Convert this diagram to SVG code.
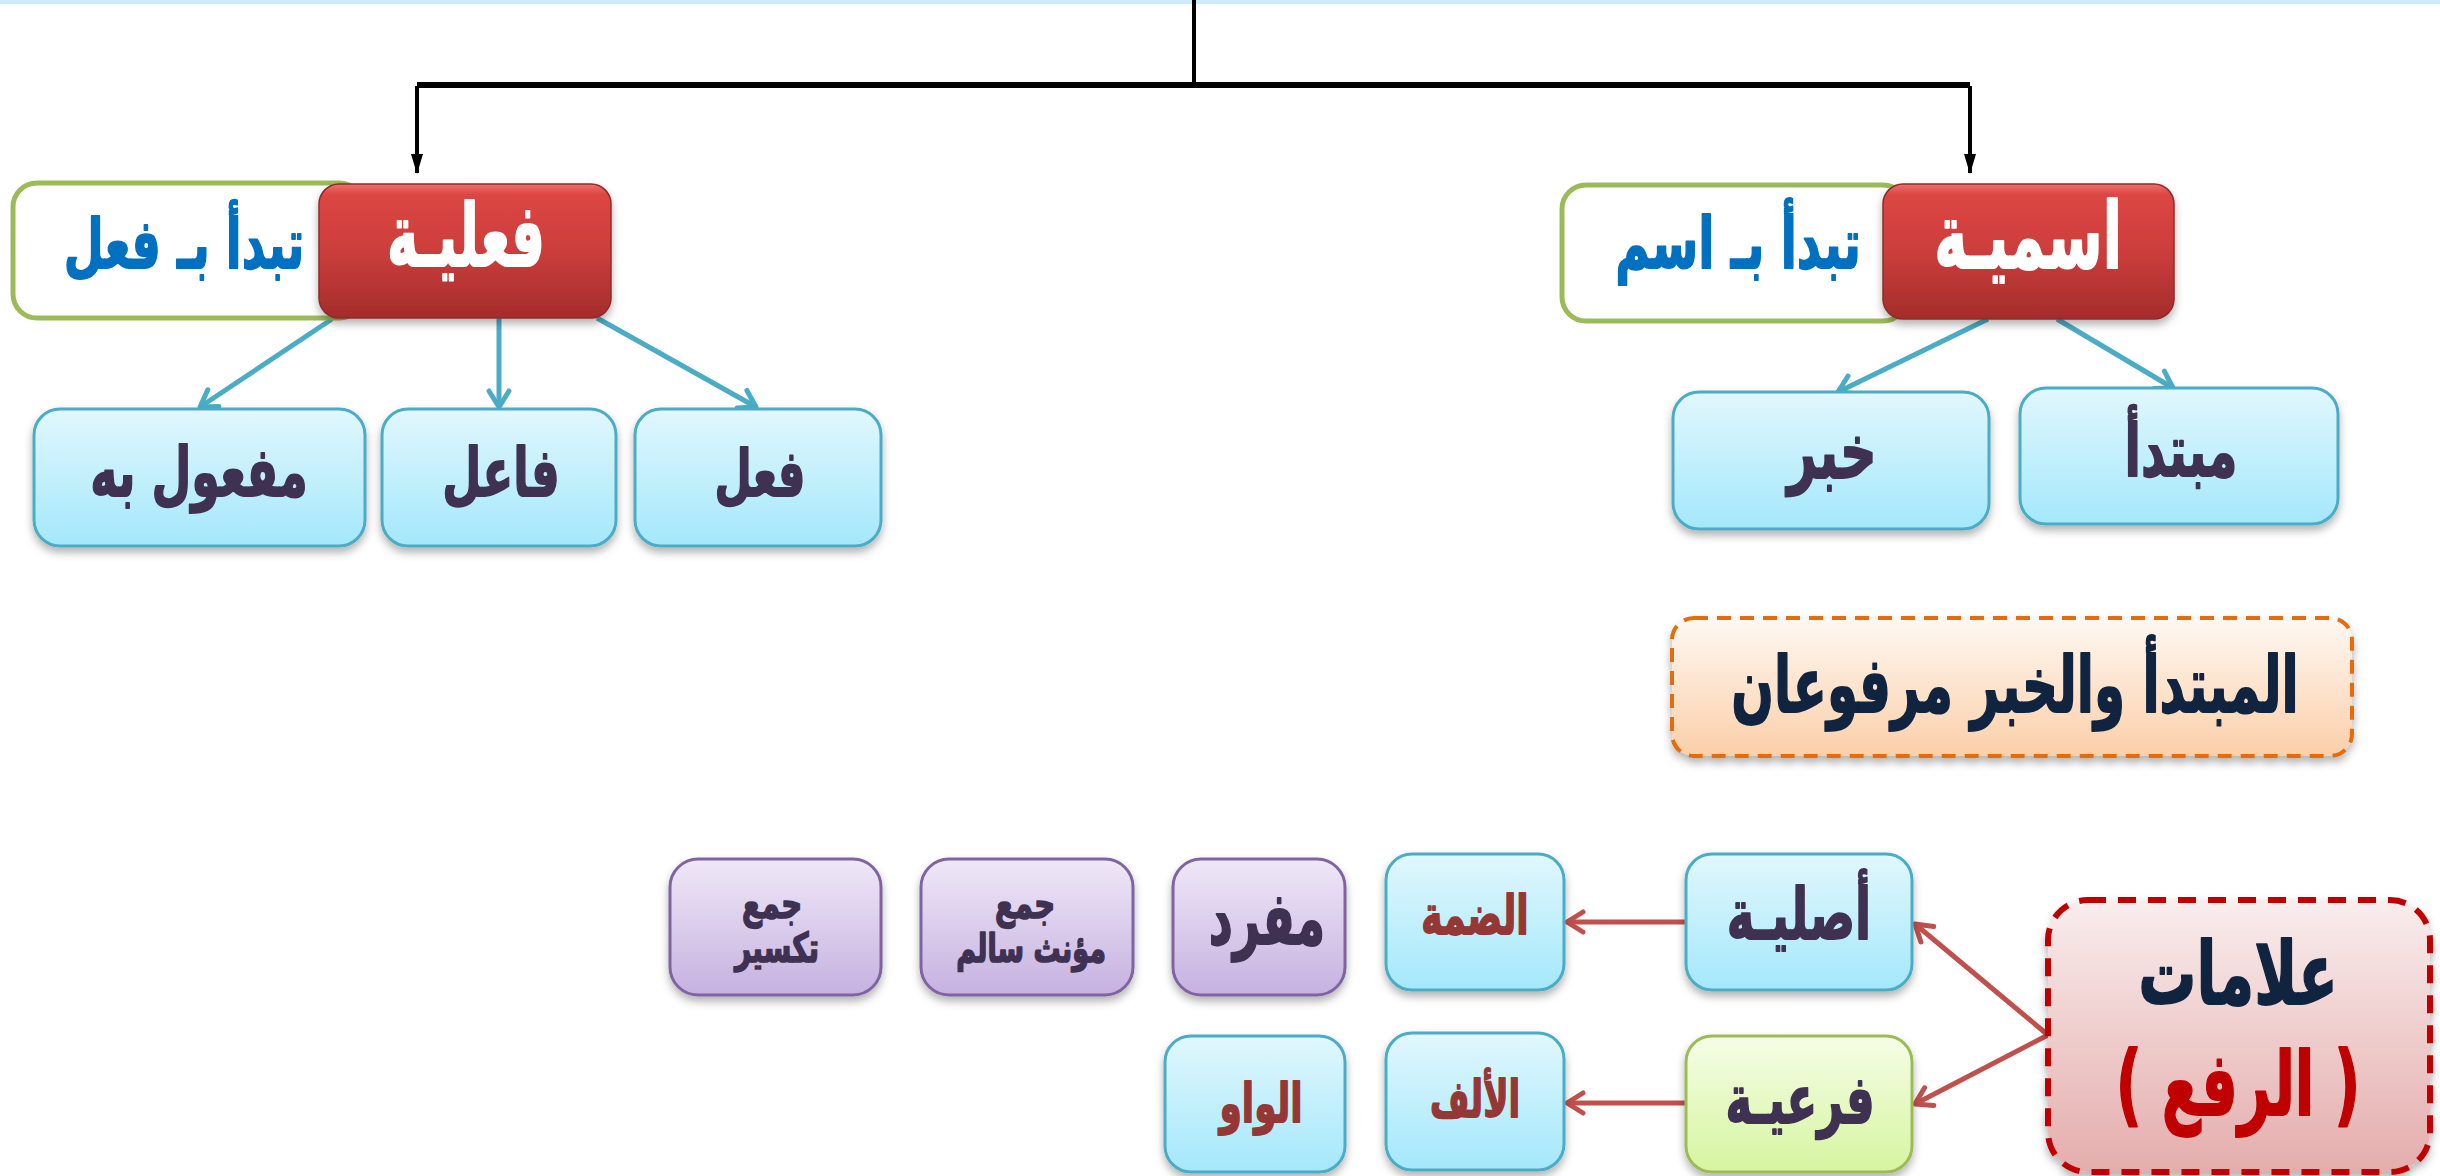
<svg xmlns="http://www.w3.org/2000/svg" width="2440" height="1176" viewBox="0 0 2440 1176">
<defs>
<style>
text{font-family:"DejaVu Sans","Liberation Sans",sans-serif;font-weight:bold;text-anchor:middle;stroke-width:1.2;stroke-linejoin:round}
.blue{fill:url(#gBlue);stroke:#4bacc6;stroke-width:3}
.purple{fill:url(#gPurple);stroke:#8064a2;stroke-width:3}
.green{fill:url(#gGreen);stroke:#9bbb59;stroke-width:3}
.redbox{fill:url(#gRed);stroke:#8e2b2b;stroke-width:1.5}
.outline{fill:#ffffff;stroke:#9bbb59;stroke-width:5}
.tDark{fill:#3f3151;stroke:#3f3151}
.tNavy{fill:#10243f;stroke:#10243f}
.tBrown{fill:#953735;stroke:#953735}
.tWhite{fill:#ffffff;stroke:#ffffff}
.tBlueTxt{fill:#0070c0;stroke:#0070c0}
.tRed{fill:#c00000;stroke:#c00000}
.black{stroke:#000;stroke-width:4;fill:none}
.teal{stroke:#4bacc6;stroke-width:5;fill:none}
.redline{stroke:#c0504d;stroke-width:5;fill:none}
</style>
<linearGradient id="gBlue" x1="0" y1="0" x2="0" y2="1"><stop offset="0" stop-color="#e1f7fd"/><stop offset="1" stop-color="#a4e8fb"/></linearGradient>
<linearGradient id="gPurple" x1="0" y1="0" x2="0" y2="1"><stop offset="0" stop-color="#efe8f7"/><stop offset="1" stop-color="#c6b1e0"/></linearGradient>
<linearGradient id="gGreen" x1="0" y1="0" x2="0" y2="1"><stop offset="0" stop-color="#f5fde6"/><stop offset="1" stop-color="#d6f5a0"/></linearGradient>
<linearGradient id="gRed" x1="0" y1="0" x2="0" y2="1"><stop offset="0" stop-color="#ef6f6c"/><stop offset="0.08" stop-color="#dc4643"/><stop offset="0.5" stop-color="#cc3e3c"/><stop offset="1" stop-color="#a42c2b"/></linearGradient>
<linearGradient id="gOrange" x1="0" y1="0" x2="0" y2="1"><stop offset="0" stop-color="#fef8f2"/><stop offset="1" stop-color="#fbcfa9"/></linearGradient>
<linearGradient id="gPink" x1="0" y1="0" x2="0" y2="1"><stop offset="0" stop-color="#f9eded"/><stop offset="1" stop-color="#e4adac"/></linearGradient>
<filter id="sh" x="-10%" y="-10%" width="120%" height="130%"><feDropShadow dx="0" dy="5" stdDeviation="4" flood-color="#000" flood-opacity="0.3"/></filter>
<marker id="mBlack" viewBox="0 0 20 14" markerWidth="20" markerHeight="14" refX="19" refY="7" orient="auto" markerUnits="userSpaceOnUse"><path d="M0,1 L20,7 L0,13 Z" fill="#000"/></marker>
<marker id="mTeal" viewBox="0 0 26 26" markerWidth="26" markerHeight="26" refX="22" refY="13" orient="auto" markerUnits="userSpaceOnUse"><path d="M6,3 L22,13 L6,23" fill="none" stroke="#4bacc6" stroke-width="5" stroke-linecap="round" stroke-linejoin="round"/></marker>
<marker id="mRed" viewBox="0 0 26 26" markerWidth="26" markerHeight="26" refX="22" refY="13" orient="auto" markerUnits="userSpaceOnUse"><path d="M6,3 L22,13 L6,23" fill="none" stroke="#c0504d" stroke-width="5" stroke-linecap="round" stroke-linejoin="round"/></marker>
</defs>
<rect x="0" y="0" width="2440" height="1176" fill="#ffffff"/>
<rect x="0" y="0" width="2440" height="4" fill="#ccecfb"/>

<g id="connectors">
<path class="black" d="M1194,0 V85"/>
<rect x="417" y="82" width="1553" height="6" fill="#000"/>
<path class="black" d="M417,86 V173" marker-end="url(#mBlack)"/>
<path class="black" d="M1970,86 V173" marker-end="url(#mBlack)"/>
<path class="teal" d="M332,319 L200,407" marker-end="url(#mTeal)"/>
<path class="teal" d="M499,318 V407" marker-end="url(#mTeal)"/>
<path class="teal" d="M597,318 L756,407" marker-end="url(#mTeal)"/>
<path class="teal" d="M1988,319 L1838,392" marker-end="url(#mTeal)"/>
<path class="teal" d="M2057,319 L2173,388" marker-end="url(#mTeal)"/>
<path class="redline" d="M1686,922 H1567" marker-end="url(#mRed)"/>
<path class="redline" d="M1686,1103 H1567" marker-end="url(#mRed)"/>
<path class="redline" d="M2048,1035 L1915,924" marker-end="url(#mRed)"/>
<path class="redline" d="M2048,1035 L1915,1104" marker-end="url(#mRed)"/>
</g>

<g id="node-fe3lia-desc">
<rect class="outline" x="13" y="183" width="350" height="135" rx="24"/>
<text class="tBlueTxt" transform="translate(184,268) scale(1,1.5)" font-size="46">تبدأ بـ فعل</text>
</g>
<g id="node-fe3lia">
<rect class="redbox" x="319" y="184" width="292" height="134" rx="20" filter="url(#sh)"/>
<text class="tWhite" transform="translate(466,266) scale(1,1.65)" font-size="53">فعليـة</text>
</g>

<g id="node-maf3ool">
<rect class="blue" x="34" y="409" width="331" height="137" rx="26" filter="url(#sh)"/>
<text class="tDark" transform="translate(199,496) scale(1,1.5)" font-size="46">مفعول به</text>
</g>
<g id="node-faa3il">
<rect class="blue" x="382" y="409" width="234" height="137" rx="26" filter="url(#sh)"/>
<text class="tDark" transform="translate(501,496) scale(1,1.5)" font-size="45">فاعل</text>
</g>
<g id="node-fi3l">
<rect class="blue" x="635" y="409" width="246" height="137" rx="26" filter="url(#sh)"/>
<text class="tDark" transform="translate(760,496) scale(1,1.5)" font-size="43">فعل</text>
</g>

<g id="node-ismia-desc">
<rect class="outline" x="1562" y="185" width="345" height="136" rx="24"/>
<text class="tBlueTxt" transform="translate(1738,268) scale(1,1.5)" font-size="47">تبدأ بـ اسم</text>
</g>
<g id="node-ismia">
<rect class="redbox" x="1883" y="184" width="291" height="135" rx="20" filter="url(#sh)"/>
<text class="tWhite" transform="translate(2028,268) scale(1,1.65)" font-size="56">اسميـة</text>
</g>

<g id="node-khabar">
<rect class="blue" x="1673" y="392" width="316" height="137" rx="26" filter="url(#sh)"/>
<text class="tDark" transform="translate(1832,478) scale(1,1.5)" font-size="51">خبر</text>
</g>
<g id="node-mubtada">
<rect class="blue" x="2020" y="388" width="318" height="136" rx="26" filter="url(#sh)"/>
<text class="tDark" transform="translate(2181,476) scale(1,1.5)" font-size="48">مبتدأ</text>
</g>

<g id="node-marfooan">
<rect x="1672" y="618" width="680" height="138" rx="22" fill="url(#gOrange)" stroke="#e46c0a" stroke-width="4" stroke-dasharray="14 9" filter="url(#sh)"/>
<text class="tNavy" transform="translate(2015,712) scale(1,1.55)" font-size="50">المبتدأ والخبر مرفوعان</text>
</g>

<g id="node-alamat">
<rect x="2048" y="900" width="382" height="272" rx="40" fill="url(#gPink)" stroke="#c00000" stroke-width="6" stroke-dasharray="18 12" filter="url(#sh)"/>
<text class="tNavy" transform="translate(2238,1004) scale(1,1.5)" font-size="58">علامات</text>
<text class="tRed" transform="translate(2238,1115) scale(1,1.55)" font-size="57">( الرفع )</text>
</g>

<g id="node-asliya">
<rect class="blue" x="1686" y="854" width="226" height="136" rx="26" filter="url(#sh)"/>
<text class="tDark" transform="translate(1799,939) scale(1,1.5)" font-size="47">أصليـة</text>
</g>
<g id="node-far3iya">
<rect class="green" x="1686" y="1036" width="226" height="136" rx="26" filter="url(#sh)"/>
<text class="tDark" transform="translate(1800,1123) scale(1,1.5)" font-size="45">فرعيـة</text>
</g>

<g id="node-damma">
<rect class="blue" x="1386" y="854" width="178" height="136" rx="26" filter="url(#sh)"/>
<text class="tBrown" transform="translate(1475,934) scale(1,1.5)" font-size="36">الضمة</text>
</g>
<g id="node-alif">
<rect class="blue" x="1386" y="1033" width="178" height="137" rx="26" filter="url(#sh)"/>
<text class="tBrown" transform="translate(1475,1117) scale(1,1.5)" font-size="34">الألف</text>
</g>
<g id="node-waw">
<rect class="blue" x="1165" y="1036" width="180" height="136" rx="26" filter="url(#sh)"/>
<text class="tBrown" transform="translate(1261,1122) scale(1,1.5)" font-size="36">الواو</text>
</g>

<g id="node-mufrad">
<rect class="purple" x="1173" y="859" width="172" height="136" rx="28" filter="url(#sh)"/>
<text class="tDark" transform="translate(1267,944) scale(1,1.55)" font-size="47">مفرد</text>
</g>
<g id="node-muannath">
<rect class="purple" x="921" y="859" width="212" height="136" rx="28" filter="url(#sh)"/>
<text class="tDark" transform="translate(1025,918) scale(1,1.45)" font-size="29">جمع</text>
<text class="tDark" transform="translate(1031,962) scale(1,1.45)" font-size="27">مؤنث سالم</text>
</g>
<g id="node-taksir">
<rect class="purple" x="670" y="859" width="211" height="136" rx="28" filter="url(#sh)"/>
<text class="tDark" transform="translate(772,918) scale(1,1.45)" font-size="29">جمع</text>
<text class="tDark" transform="translate(777,962) scale(1,1.45)" font-size="28">تكسير</text>
</g>
</svg>
